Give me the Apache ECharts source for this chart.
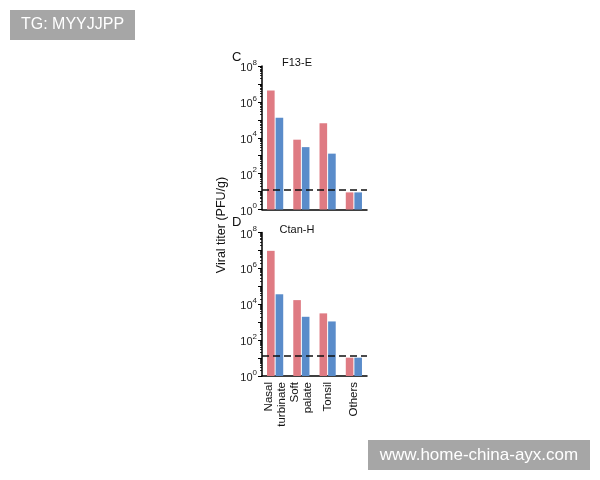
<!DOCTYPE html>
<html>
<head>
<meta charset="utf-8">
<script src="https://cdn.jsdelivr.net/npm/echarts@6/dist/echarts.min.js"></script>
<style>html,body{margin:0;padding:0;background:#fff}#c{width:600px;height:480px}</style>
</head>
<body>
<div id="c"></div>
<script>
var categories = ['Nasal\nturbinate', 'Soft\npalate', 'Tonsil', 'Others'];
var cPink = [4.3e6, 7.8e3, 6.5e4, 9];
var cBlue = [1.3e5, 3.0e3, 1.3e3, 9];
var dPink = [9.5e6, 1.7e4, 3.1e3, 10.5];
var dBlue = [3.6e4, 2.0e3, 1.1e3, 10.5];
var detectionLimit = 13;
var panelLetters = ['C', 'D'];
var panelTitles = ['F13-E', 'Ctan-H'];
var yAxisTitle = 'Viral titer (PFU/g)';
var watermarks = ['TG: MYYJJPP', 'www.home-china-ayx.com'];

var PINK = '#df7b83', BLUE = '#5a8cca';
var FONT = '"Liberation Sans", Arial, Helvetica, sans-serif';
var chart = echarts.init(document.getElementById('c'));

function yAxisCfg(gi) {
  return {
    type: 'log', logBase: 10, min: 1, max: 1e8, gridIndex: gi, splitNumber: 8,
    axisLine: {show: true, lineStyle: {color: '#000', width: 1.5}},
    axisTick: {show: true, length: 4, lineStyle: {color: '#000', width: 1}},
    minorTick: {show: true, splitNumber: 9, length: 2, lineStyle: {color: '#000', width: 0.8}},
    splitLine: {show: false},
    axisLabel: {
      margin: 5, color: '#222',
      formatter: function (v) {
        var e = Math.round(Math.log10(v));
        if (e % 2 !== 0) return '';
        return '{b|10}{s|' + e + '}';
      },
      rich: {
        b: {fontSize: 11, fontFamily: FONT, color: '#222', lineHeight: 15, verticalAlign: 'bottom'},
        s: {fontSize: 8, fontFamily: FONT, color: '#222', lineHeight: 15, verticalAlign: 'top'}
      }
    }
  };
}
function xAxisCfg(gi, showLabels) {
  return {
    type: 'category', data: categories, gridIndex: gi,
    axisLine: {lineStyle: {color: '#000', width: 1.5}},
    axisTick: {alignWithLabel: true, length: 4, lineStyle: {color: '#000', width: 1}},
    axisLabel: {show: showLabels, rotate: 90, fontSize: 11.5, lineHeight: 13, color: '#111', fontFamily: FONT, margin: 6, align: 'right'}
  };
}
function barSeries(data, color, gi, withLine) {
  var s = {
    type: 'bar', data: data, xAxisIndex: gi, yAxisIndex: gi,
    barWidth: 7.6, barGap: '13%', itemStyle: {color: color}
  };
  if (withLine) {
    s.markLine = {
      silent: true, symbol: 'none', label: {show: false},
      lineStyle: {color: '#111', type: [7, 4], width: 1.5},
      data: [{yAxis: detectionLimit}]
    };
  }
  return s;
}

chart.setOption({
  animation: false,
  backgroundColor: '#fff',
  textStyle: {fontFamily: FONT},
  grid: [
    {left: 262, top: 66, width: 105, height: 143.5},
    {left: 262, top: 232.5, width: 105, height: 143.5}
  ],
  xAxis: [xAxisCfg(0, false), xAxisCfg(1, true)],
  yAxis: [yAxisCfg(0), yAxisCfg(1)],
  series: [
    barSeries(cPink, PINK, 0, true),
    barSeries(cBlue, BLUE, 0, false),
    barSeries(dPink, PINK, 1, true),
    barSeries(dBlue, BLUE, 1, false)
  ],
  graphic: [
    {type: 'text', left: 232, top: 51, style: {text: panelLetters[0], font: '13px ' + FONT, fill: '#111'}},
    {type: 'text', left: 232, top: 216, style: {text: panelLetters[1], font: '13px ' + FONT, fill: '#111'}},
    {type: 'text', x: 297, y: 63, style: {text: panelTitles[0], font: '11px ' + FONT, fill: '#111', align: 'center', verticalAlign: 'middle'}},
    {type: 'text', x: 297, y: 230, style: {text: panelTitles[1], font: '11px ' + FONT, fill: '#111', align: 'center', verticalAlign: 'middle'}},
    {type: 'text', x: 222, y: 225, rotation: Math.PI / 2, style: {text: yAxisTitle, font: '12.5px ' + FONT, fill: '#111', align: 'center', verticalAlign: 'middle'}},
    {type: 'rect', shape: {x: 10, y: 10, width: 125, height: 30}, style: {fill: '#a6a6a6'}},
    {type: 'text', x: 72.5, y: 25, style: {text: watermarks[0], font: '16px ' + FONT, fill: '#fff', align: 'center', verticalAlign: 'middle'}},
    {type: 'rect', shape: {x: 368, y: 440, width: 222, height: 30}, style: {fill: '#a6a6a6'}},
    {type: 'text', x: 479, y: 455, style: {text: watermarks[1], font: '17px ' + FONT, fill: '#fff', align: 'center', verticalAlign: 'middle'}}
  ]
});
</script>
</body>
</html>
